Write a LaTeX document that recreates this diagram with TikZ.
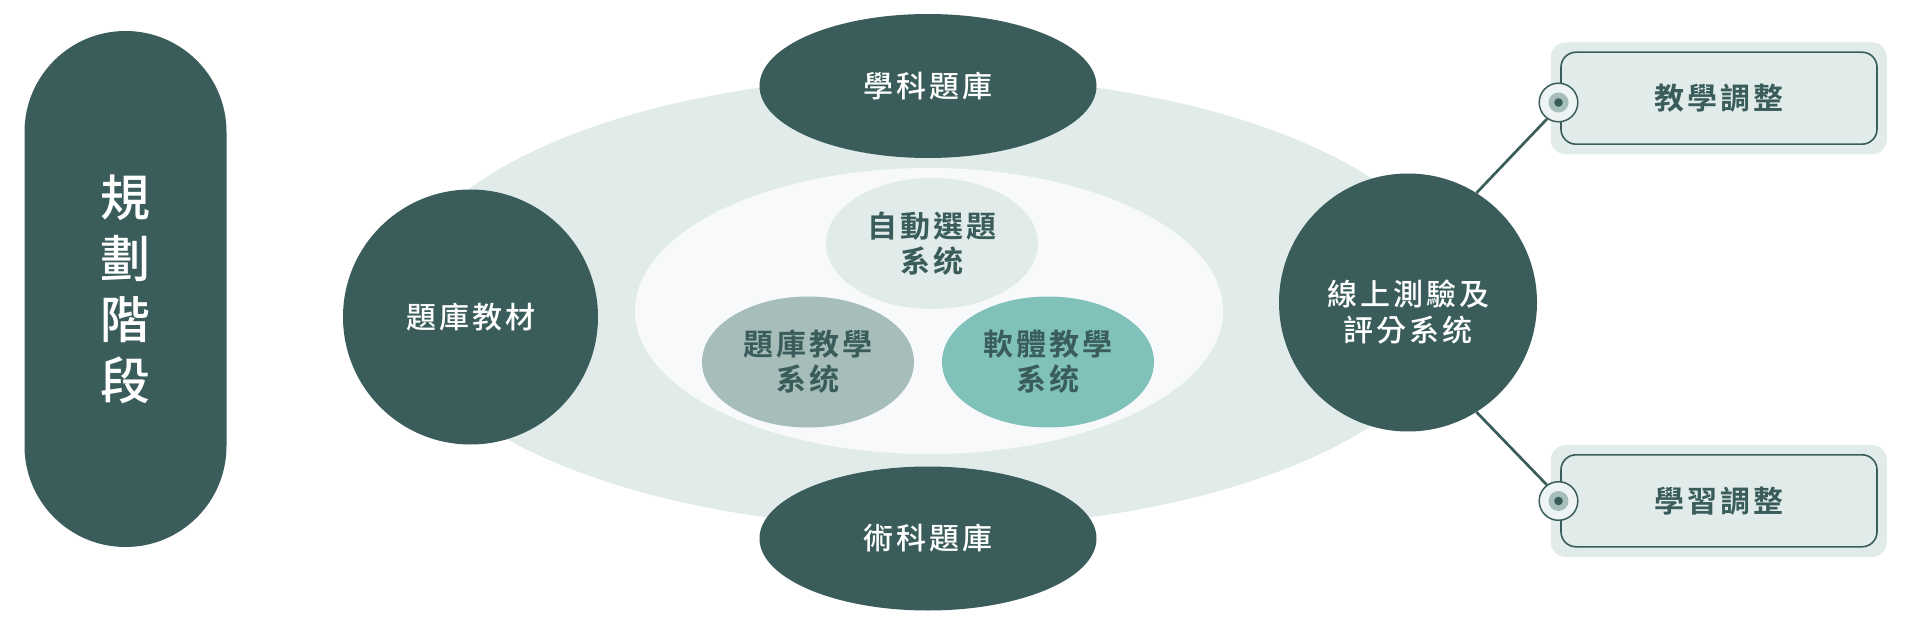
\documentclass[tikz,border=0pt]{standalone}
\usepackage{fontspec}
\setmainfont{Noto Sans CJK TC}[UprightFont={* Medium}, BoldFont={* Bold}]
\usetikzlibrary{shapes.geometric}
\definecolor{dk}{HTML}{3A5D5B}
\definecolor{lt}{HTML}{E1ECEA}
\definecolor{inr}{HTML}{F7F9FA}
\definecolor{gry}{HTML}{A6BDBA}
\definecolor{tea}{HTML}{80C1BA}
\definecolor{dotbg}{HTML}{EEF4F3}
\newdimen\trk
\def\trx#1{\ifx\relax#1\else#1\kern\trk\expandafter\trx\fi}
\newcommand\tr[2][3pt]{\trk=#1\relax\trx#2\relax\unkern}
\tikzset{
  darkell/.style={ellipse, fill=dk, inner sep=0pt, text=white, font=\fontsize{30}{35}\selectfont, align=center},
  softell/.style={ellipse, inner sep=0pt, text=dk, font=\bfseries\fontsize{30}{35}\selectfont, align=center, minimum width=212pt, minimum height=131pt},
  darkcirc/.style={circle, fill=dk, inner sep=0pt, text=white, font=\fontsize{30}{36}\selectfont, align=center},
  boxbg/.style={rectangle, rounded corners=15pt, fill=lt, minimum width=336pt, minimum height=112pt, inner sep=0pt},
  boxin/.style={rectangle, rounded corners=15pt, draw=dk, line width=1.6pt, fill=lt, minimum width=316pt, minimum height=92pt, inner sep=0pt, text=dk, font=\bfseries\fontsize{30}{35}\selectfont},
  ring/.style={circle, draw=dk, line width=1.5pt, fill=dotbg, minimum size=38.6pt, inner sep=0pt},
  ringmid/.style={circle, fill=gry, minimum size=20pt, inner sep=0pt},
  ringdot/.style={circle, fill=dk, minimum size=8.6pt, inner sep=0pt},
  conn/.style={draw=dk, line width=2.7pt}
}
\begin{document}
\begin{tikzpicture}[x=1pt,y=-1pt]
\useasboundingbox (0,0) rectangle (1920,620);
\fill[white] (0,0) rectangle (1920,620);
% stage pill
\node[rectangle, rounded corners=101pt, fill=dk, minimum width=202pt, minimum height=516pt, inner sep=0pt,
  text=white, font=\fontsize{50}{61}\selectfont, align=center] (stage) at (125.5,289) {規\\劃\\階\\段};
% big ellipses
\node[ellipse, fill=lt, minimum width=1060pt, minimum height=452pt, inner sep=0pt] (outer) at (928,302) {};
\node[ellipse, fill=inr, minimum width=588pt, minimum height=286pt, inner sep=0pt] (inner) at (929,311) {};
% inner systems
\node[softell, fill=lt] (auto) at (932,243.5) {\tr{自動選題}\\\tr{系统}};
\node[softell, fill=gry] (qbank) at (808,362) {\tr{題庫教學}\\\tr{系统}};
\node[softell, fill=tea] (soft) at (1048,362) {\tr{軟體教學}\\\tr{系统}};
% banks
\node[darkell, minimum width=337pt, minimum height=144pt] (acad) at (928,86) {\tr{學科題庫}};
\node[darkell, minimum width=337pt, minimum height=144pt] (tech) at (928,538.5) {\tr{術科題庫}};
% circles
\node[darkcirc, minimum size=255pt] (mat) at (470.5,317) {\tr{題庫教材}};
\node[darkcirc, minimum size=258pt] (test) at (1408,302.5) {};
\node[text=white, font=\fontsize{30}{36}\selectfont, align=center, inner sep=0pt] (testlbl) at (1408,312) {\tr{線上測驗及}\\\tr{評分系统}};
% right boxes
\node[boxbg] (b1bg) at (1718.8,98.3) {};
\node[boxin] (b1) at (1719,98.2) {\tr{教學調整}};
\node[boxbg] (b2bg) at (1718.8,501) {};
\node[boxin] (b2) at (1719,500.8) {\tr{學習調整}};
% connector rings
\node[ring] (r1) at (1558.5,102.5) {};
\node[ringmid] (r1m) at (r1) {};
\node[ringdot] (r1d) at (r1) {};
\node[ring] (r2) at (1558.5,501) {};
\node[ringmid] (r2m) at (r2) {};
\node[ringdot] (r2d) at (r2) {};
% connectors
\draw[conn] (test.58) -- (r1.235);
\draw[conn] (test.-58) -- (r2.126);
\end{tikzpicture}
\end{document}
